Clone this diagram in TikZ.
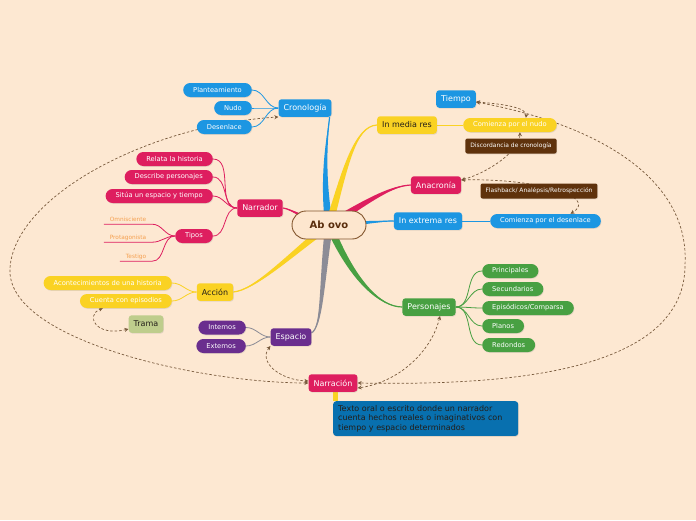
\documentclass[tikz,border=0pt]{standalone}
\usepackage{fontspec}
\setmainfont{DejaVu Sans}
\usepackage{xcolor}
\usepackage{tikz}
\usetikzlibrary{positioning, arrows.meta, calc, backgrounds, shadows}

\definecolor{bgc}{RGB}{253,232,210}
\definecolor{bluec}{RGB}{28,150,226}
\definecolor{yellowc}{RGB}{250,210,35}
\definecolor{pinkc}{RGB}{222,30,95}
\definecolor{greenc}{RGB}{72,160,66}
\definecolor{purplec}{RGB}{106,46,142}
\definecolor{brownc}{RGB}{95,50,12}
\definecolor{tramac}{RGB}{190,205,140}
\definecolor{descc}{RGB}{8,112,175}
\definecolor{grayc}{RGB}{140,140,150}
\definecolor{rootc}{RGB}{253,230,206}
\definecolor{rootb}{RGB}{130,85,45}
\definecolor{roottext}{RGB}{90,45,12}
\definecolor{relc}{RGB}{120,90,60}
\definecolor{orangec}{RGB}{245,160,80}
\definecolor{darkc}{RGB}{35,30,25}

% tapered main branch: colour, half width, control 1, control 2, end
\newcommand{\limb}[5]{%
  \fill[#1] ($(ab.center)+(#2)$) .. controls ($(#3)+0.6*(#2)$) and ($(#4)+0.2*(#2)$) .. (#5)
    .. controls ($(#4)-0.2*(#2)$) and ($(#3)-0.6*(#2)$) .. ($(ab.center)-(#2)$) -- cycle;
  \draw[#1, line width=1.2pt] (ab.center) .. controls (#3) and (#4) .. (#5);}

\begin{document}
\begin{tikzpicture}[
    x=1pt, y=-1pt,
    root/.style = {
        rectangle, rounded corners=14pt, minimum width=74pt, minimum height=28pt,
        fill=rootc, draw=rootb, line width=0.9pt,
        font=\fontsize{10}{12}\selectfont\bfseries, text=roottext
    },
    topic/.style = {
        rectangle, rounded corners=3pt, minimum height=17.5pt, inner xsep=5pt, inner ysep=2pt,
        font=\fontsize{8}{9}\selectfont, text=white,
        drop shadow={opacity=0.2, shadow xshift=0.6pt, shadow yshift=-0.8pt}
    },
    leaf/.style = {
        topic, rounded corners=7pt, minimum height=14pt, inner xsep=10pt,
        font=\fontsize{6.7}{8}\selectfont
    },
    rellabel/.style = {
        topic, rounded corners=2pt, fill=brownc, minimum height=15pt,
        font=\fontsize{6}{7}\selectfont
    },
    kind/.style = {
        inner sep=0pt, minimum height=9pt, font=\fontsize{5.8}{6}\selectfont, text=orangec
    },
    descbox/.style = {
        rectangle, rounded corners=3pt, fill=descc, text=darkc, align=left,
        text width=175pt, inner xsep=5pt, inner ysep=4pt, anchor=north west,
        font=\fontsize{8}{9.5}\selectfont,
        drop shadow={opacity=0.2, shadow xshift=0.6pt, shadow yshift=-0.8pt}
    },
    sub/.style = {line width=0.8pt},
    rel/.style = {
        draw=relc, line width=0.7pt, dash pattern=on 2.5pt off 2pt,
        {Stealth[length=4pt,width=4pt]}-{Stealth[length=4pt,width=4pt]}
    }
]
\useasboundingbox (0,0) rectangle (696,520);

% ── Central topic ──
\node[root] (ab) at (329,225) {Ab ovo};

% ── Cronología ──
\node[topic, fill=bluec] (crono) at (305,108) {Cronología};
\node[leaf, fill=bluec, anchor=east] (plant) at (252,90)  {Planteamiento};
\node[leaf, fill=bluec, anchor=east] (nudo)  at (252,108) {Nudo};
\node[leaf, fill=bluec, anchor=east] (desen) at (252,127) {Desenlace};

% ── Tiempo / Anacronía ──
\node[topic, fill=bluec] (tiempo) at (456,99) {Tiempo};
\node[topic, fill=yellowc, text=darkc] (media) at (407,125) {In media res};
\node[leaf, fill=yellowc, anchor=west] (cnudo) at (463,125) {Comienza por el nudo};
\node[rellabel] (discord) at (511,146) {Discordancia de cronología};
\node[topic, fill=pinkc] (anacr) at (436,185) {Anacronía};
\node[rellabel] (flash) at (539,191) {Flashback/ Analépsis/Retrospección};
\node[topic, fill=bluec] (extrema) at (428,221) {In extrema res};
\node[leaf, fill=bluec, anchor=west] (cdesen) at (490,221) {Comienza por el desenlace};

% ── Personajes ──
\node[topic, fill=greenc] (pers) at (429,307) {Personajes};
\node[leaf, fill=greenc, anchor=west] (princ)  at (482,271) {Principales};
\node[leaf, fill=greenc, anchor=west] (secun)  at (482,289) {Secundarios};
\node[leaf, fill=greenc, anchor=west] (episod) at (482,308) {Episódicos/Comparsa};
\node[leaf, fill=greenc, anchor=west] (planos) at (482,326) {Planos};
\node[leaf, fill=greenc, anchor=west] (redond) at (482,345) {Redondos};

% ── Narración ──
\node[topic, fill=pinkc] (narrac) at (333,383) {Narración};
\node[descbox] (texto) at (333,401) {Texto oral o escrito donde un narrador\\cuenta hechos reales o imaginativos con\\tiempo y espacio determinados};

% ── Espacio ──
\node[topic, fill=purplec] (espacio) at (291,337) {Espacio};
\node[leaf, fill=purplec, anchor=east] (intern) at (246,327.5) {Internos};
\node[leaf, fill=purplec, anchor=east] (extern) at (246,346) {Externos};

% ── Acción ──
\node[topic, fill=yellowc, text=darkc] (accion) at (215,292) {Acción};
\node[leaf, fill=yellowc, anchor=east] (aconte) at (172,283) {Acontecimientos de una historia};
\node[leaf, fill=yellowc, anchor=east] (cuenta) at (172,301) {Cuenta con episodios};
\node[topic, fill=tramac, text=darkc] (trama) at (146,324) {Trama};

% ── Narrador ──
\node[topic, fill=pinkc] (narrador) at (260,208) {Narrador};
\node[leaf, fill=pinkc, anchor=east] (relata)   at (213,159) {Relata la historia};
\node[leaf, fill=pinkc, anchor=east] (describe) at (213,177) {Describe personajes};
\node[leaf, fill=pinkc, anchor=east] (situa)    at (213,196) {Sitúa un espacio y tiempo};
\node[leaf, fill=pinkc, anchor=east] (tipos)    at (213,236) {Tipos};
\node[kind, minimum width=48pt] (omni)    at (128,219.5) {Omnisciente};
\node[kind, minimum width=48pt] (prota)   at (128,237.5) {Protagonista};
\node[kind, minimum width=32pt] (testigo) at (136,256.5) {Testigo};

\begin{scope}[on background layer]
\fill[bgc] (0,0) rectangle (696,520);

% ── Main branches ──
\limb{bluec}{4,0}{322,175}{327,140}{[xshift=-2pt]crono.south east}
\limb{yellowc}{4,0}{345,168}{355,126}{media.west}
\limb{pinkc}{2,3.5}{372,198}{392,186}{anacr.west}
\limb{bluec}{0,3}{365,223}{380,221}{extrema.west}
\limb{greenc}{3.7,-1.5}{352,280}{380,307}{pers.west}
\limb{grayc}{4,0}{321,290}{322,326}{[yshift=4pt]espacio.east}
\limb{yellowc}{2.5,3}{290,255}{255,290}{accion.east}
\limb{pinkc}{0,3.5}{305,220}{292,209}{narrador.east}

% ── Sub branches ──
\foreach \n in {plant, nudo, desen}
  \draw[sub, bluec] (crono.west) to[out=180, in=0] (\n.east);
\draw[sub, yellowc] (media.east) -- (cnudo.west);
\draw[sub, bluec] (extrema.east) -- (cdesen.west);
\foreach \n in {princ, secun, episod, planos, redond}
  \draw[sub, greenc] (pers.east) to[out=0, in=180] (\n.west);
\foreach \n in {intern, extern}
  \draw[sub, grayc] (espacio.west) to[out=180, in=0] (\n.east);
\foreach \n in {aconte, cuenta}
  \draw[sub, yellowc] (accion.west) to[out=180, in=0] (\n.east);
\foreach \n in {relata, describe, situa, tipos}
  \draw[sub, pinkc] (narrador.west) to[out=180, in=0] (\n.east);
\foreach \n in {omni, prota, testigo}
  \draw[sub, pinkc] (tipos.west) to[out=180, in=0] (\n.south east) -- (\n.south west);
\draw[yellowc, line width=5pt] ([xshift=2.5pt]narrac.south) -- ([xshift=2.5pt]texto.north west);

% ── Relations ──
\draw[rel] (narrac.west) .. controls (200,383) and (5,340) .. (10,268)
    .. controls (15,195) and (150,125) .. (crono.south west);
\draw[rel] ([yshift=-3pt]tiempo.east) .. controls (600,125) and (690,180) .. (685,265)
    .. controls (685,380) and (480,385) .. (narrac.east);
\draw[rel] ([yshift=-3pt]tiempo.east) .. controls (505,104) and (527,108) .. ([xshift=16pt]cnudo.north);
\draw[rel] ([yshift=5pt]anacr.east) .. controls (490,172) and (520,150) .. ([xshift=10pt]cnudo.south);
\draw[rel] ([yshift=5pt]anacr.east) .. controls (530,178) and (600,195) .. ([xshift=25pt]cdesen.north);
\draw[rel] ([xshift=11pt]pers.south) .. controls (432,350) and (400,382) .. ([yshift=-5pt]narrac.east);
\draw[rel] (espacio.south west) .. controls (258,362) and (280,380) .. ([yshift=2pt]narrac.west);
\draw[rel] ([yshift=-5pt]trama.west) .. controls (95,337) and (85,315) .. ([xshift=-23pt]cuenta.south);
\end{scope}

\end{tikzpicture}
\end{document}
